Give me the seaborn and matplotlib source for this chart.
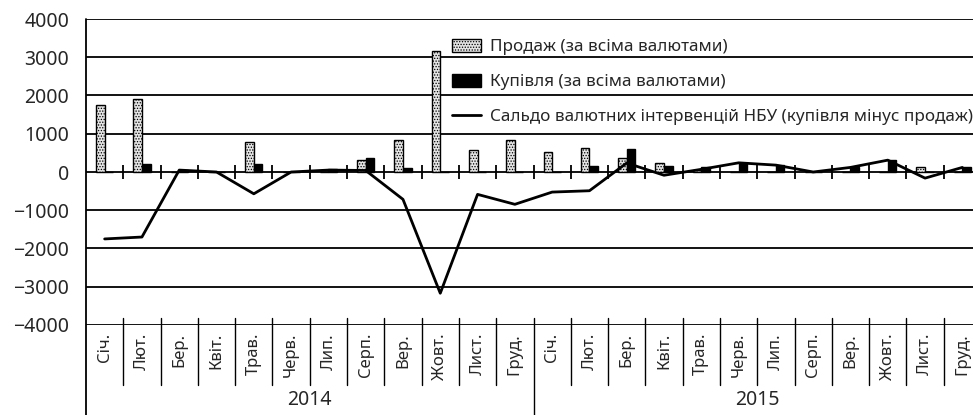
import numpy as np
import pandas as pd
import matplotlib
matplotlib.use('Agg')
import matplotlib.pyplot as plt
import seaborn as sns
from matplotlib.patches import Patch
from matplotlib.lines import Line2D

# ===============================
# Дані (млн дол. США)
# ===============================
months = ['Січ.', 'Лют.', 'Бер.', 'Квіт.', 'Трав.', 'Черв.',
          'Лип.', 'Серп.', 'Вер.', 'Жовт.', 'Лист.', 'Груд.']
years = ['2014', '2015']

sales_2014 = [1750, 1920, 0, 0, 790, 0, 0, 325, 830, 3170, 585, 845]
sales_2015 = [525, 640, 375, 245, 50, 0, 0, 0, 0, 0, 120, 0]
buy_2014 = [0, 210, 50, 0, 220, 0, 70, 365, 115, 0, 0, 0]
buy_2015 = [0, 150, 610, 160, 120, 240, 180, 0, 120, 310, 0, 120]
saldo_2014 = [-1750, -1700, 50, 0, -570, 0, 50, 40, -715, -3170, -585, -845]
saldo_2015 = [-525, -490, 235, -85, 70, 240, 180, 0, 120, 310, -160, 120]

lbl_sales = 'Продаж (за всіма валютами)'
lbl_buy = 'Купівля (за всіма валютами)'
lbl_saldo = 'Сальдо валютних інтервенцій НБУ (купівля мінус продаж)'

# ===============================
# Таблиця для seaborn
# ===============================
n = len(months) * len(years)
idx = list(range(n))
sales = sales_2014 + sales_2015
buy = buy_2014 + buy_2015
saldo = saldo_2014 + saldo_2015

bars = pd.DataFrame({
    'idx': idx + idx,
    'value': sales + buy,
    'type': [lbl_sales] * n + [lbl_buy] * n,
})
line = pd.DataFrame({'idx': idx, 'saldo': saldo})

# ===============================
# Побудова
# ===============================
sns.set_theme(style='white')
plt.rcParams['font.family'] = ['Noto Sans', 'DejaVu Sans']
plt.rcParams['hatch.color'] = '#9a9a9a'
plt.rcParams['hatch.linewidth'] = 0.6

W, H = 973, 415
fig = plt.figure(figsize=(W / 100, H / 100), dpi=100)
ax = fig.add_axes([86 / W, 1 - 325 / H, 895 / W, 306 / H])

sns.barplot(data=bars, x='idx', y='value', hue='type',
            palette={lbl_sales: '#e4e4e4', lbl_buy: 'black'},
            width=0.46, edgecolor='black', linewidth=1.0,
            legend=False, ax=ax, zorder=3)
sns.lineplot(data=line, x='idx', y='saldo', color='black', linewidth=2.0,
             ax=ax, zorder=4)

ax.set_xlim(-0.5, n - 0.5)
ax.set_ylim(-4000, 4000)
ax.set_yticks(range(-4000, 4001, 1000))
ax.yaxis.grid(True, color='black', linewidth=1.3, zorder=1)
ax.set_axisbelow(True)
ax.set_xticks([])
ax.set_xlabel('')
ax.set_ylabel('')
ax.tick_params(axis='y', length=0, pad=12, labelsize=14)
for side in ['top', 'right', 'bottom', 'left']:
    ax.spines[side].set_visible(False)

# ліва рамка від верху до низу
xt = ax.get_xaxis_transform()
ax.plot([-0.5, -0.5], [1.0, -0.3], transform=xt, color='black', lw=1.3,
        clip_on=False)

# насічки на нульовій лінії
bounds = np.arange(0.5, n - 0.5, 1)
ax.vlines(bounds, -170, 170, color='black', lw=1.3, zorder=5)

# таблиця підписів місяців
for b in bounds:
    y0 = -0.3 if b == len(months) - 0.5 else -0.196
    ax.plot([b, b], [0.023, y0], transform=xt, color='black', lw=1.0,
            clip_on=False)
for i in idx:
    ax.text(i, -0.026, months[i % 12], transform=xt, rotation=90,
            ha='center', va='top', fontsize=12)
for k, yr in enumerate(years):
    ax.text(k * 12 + 5.5, -0.245, yr, transform=xt, ha='center',
            va='center', fontsize=14)

# легенда
handles = [Patch(facecolor='#e4e4e4', edgecolor='black', lw=1.0,
                 hatch='......'),
           Patch(facecolor='black', edgecolor='black'),
           Line2D([], [], color='black', lw=2.0)]
ax.legend(handles, [lbl_sales, lbl_buy, lbl_saldo], loc='upper left',
          bbox_to_anchor=((452 - 86) / 895, (325 - 39) / 306),
          frameon=False, fontsize=12.3, labelspacing=1.08,
          handlelength=1.7, handleheight=0.8, handletextpad=0.5,
          borderaxespad=0, borderpad=0)

# штрихування для стовпців продажу
for p in ax.patches[:n]:
    p.set_hatch('......')

fig.savefig('out.png', dpi=100)
